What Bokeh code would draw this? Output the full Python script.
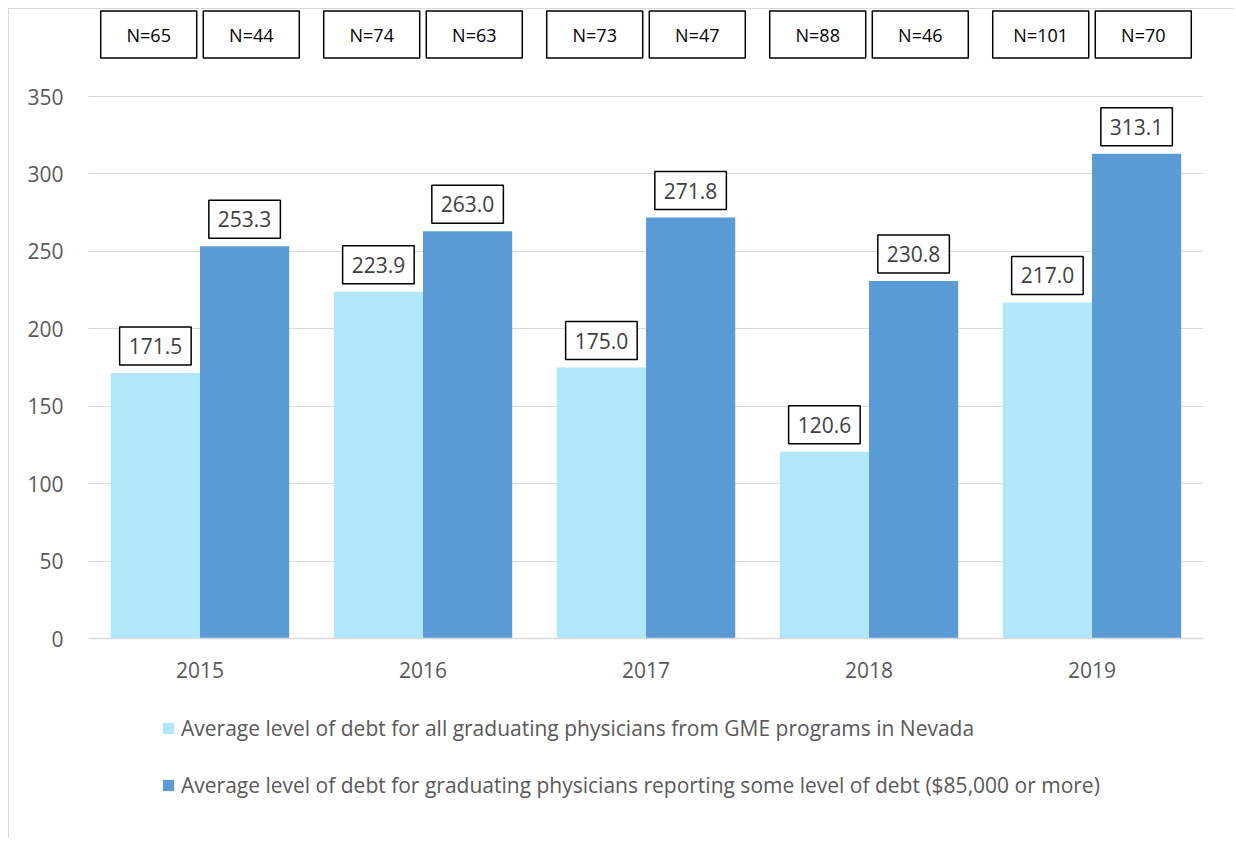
from bokeh.plotting import figure
from bokeh.layouts import column
from bokeh.models import (ColumnDataSource, FactorRange, Range1d, FixedTicker,
                          Legend, LegendItem)
from bokeh.transform import dodge
from bokeh.core.properties import value
from bokeh.embed import file_html
from bokeh.resources import INLINE

# ---- data ----
years = ["2015", "2016", "2017", "2018", "2019"]
avg_all = [171.5, 223.9, 175.0, 120.6, 217.0]
avg_some = [253.3, 263.0, 271.8, 230.8, 313.1]
n_all = [65, 74, 73, 88, 101]
n_some = [44, 63, 47, 46, 70]
y_ticks = [0, 50, 100, 150, 200, 250, 300, 350]
label_all = "Average level of debt for all graduating physicians from GME programs in Nevada"
label_some = "Average level of debt for graduating physicians reporting some level of debt ($85,000 or more)"

# ---- styles ----
FONT = "Open Sans"
C_LIGHT = "#B1E8F9"
C_DARK = "#5B9BD5"
GRID = "#D9D9D9"
TXT = "#595959"
N_BOX_Y = 390

src = ColumnDataSource(dict(
    year=years, all=avg_all, some=avg_some,
    all_txt=[f"{v:.1f}" for v in avg_all],
    some_txt=[f"{v:.1f}" for v in avg_some],
    n_all_txt=[f"N={v}" for v in n_all],
    n_some_txt=[f"N={v}" for v in n_some],
    nbox=[N_BOX_Y] * len(years),
))

p = figure(x_range=FactorRange(*years, range_padding=0), y_range=Range1d(0, 406.2),
           width=1225, height=689, output_backend="svg", toolbar_location=None,
           min_border_left=79, min_border_right=31, min_border_top=0,
           min_border_bottom=60)
p.outline_line_color = None
p.background_fill_color = "white"

r1 = p.vbar(x=dodge("year", -0.2, range=p.x_range), top="all", width=0.4,
            bottom=0, source=src, fill_color=C_LIGHT, line_color=None)
r2 = p.vbar(x=dodge("year", 0.2, range=p.x_range), top="some", width=0.4,
            bottom=0, source=src, fill_color=C_DARK, line_color=None)

# value labels with boxes
for col, off in (("all", -0.2), ("some", 0.2)):
    p.text(x=dodge("year", off, range=p.x_range), y=col, text=col + "_txt",
           source=src, text_align="center", text_baseline="bottom",
           y_offset=-8, text_font=value(FONT), text_font_size="21px",
           text_color="#404040", background_fill_color="white",
           border_line_color="black", border_line_width=1.5,
           padding=(9, 11))

# N boxes on top
for col, off in (("n_all_txt", -0.23), ("n_some_txt", 0.23)):
    p.rect(x=dodge("year", off, range=p.x_range), y="nbox", width=96, height=47,
           width_units="screen", height_units="screen", source=src,
           fill_color="white", line_color="black", line_width=1.5)
    p.text(x=dodge("year", off, range=p.x_range), y="nbox", text=col, source=src,
           text_align="center", text_baseline="middle",
           text_font=value(FONT), text_font_size="18px", text_color="black")

p.yaxis.ticker = FixedTicker(ticks=y_ticks)
p.ygrid.ticker = FixedTicker(ticks=y_ticks)
p.ygrid.grid_line_color = GRID
p.ygrid.grid_line_width = 1
p.xgrid.grid_line_color = None
p.yaxis.axis_line_color = None
p.yaxis.major_tick_line_color = None
p.yaxis.minor_tick_line_color = None
p.yaxis.major_label_text_font = FONT
p.yaxis.major_label_text_font_size = "21px"
p.yaxis.major_label_text_color = TXT
p.yaxis.major_label_standoff = 19

p.xaxis.axis_line_color = GRID
p.xaxis.axis_line_width = 1.5
p.xaxis.major_tick_line_color = None
p.xaxis.minor_tick_line_color = None
p.xaxis.major_label_text_font = FONT
p.xaxis.major_label_text_font_size = "21px"
p.xaxis.major_label_text_color = TXT
p.xaxis.major_label_standoff = 17

# legend in its own strip below the chart (proxy glyphs of zero size)
lf = figure(width=1225, height=140, output_backend="svg", toolbar_location=None,
            x_range=Range1d(0, 1), y_range=Range1d(0, 1),
            min_border=0, min_border_left=0, min_border_right=0,
            min_border_top=0, min_border_bottom=0)
lf.axis.visible = False
lf.grid.visible = False
lf.outline_line_color = None
l1 = lf.vbar(x=[0], top=[0], bottom=[0], width=0, fill_color=C_LIGHT, line_color=None)
l2 = lf.vbar(x=[0], top=[0], bottom=[0], width=0, fill_color=C_DARK, line_color=None)
legend = Legend(items=[LegendItem(label=label_all, renderers=[l1]),
                       LegendItem(label=label_some, renderers=[l2])],
                location=(73, 39), orientation="vertical",
                glyph_width=14, glyph_height=14, label_standoff=6,
                label_text_font=FONT, label_text_font_size="21px",
                label_text_color=TXT, border_line_color=None,
                background_fill_alpha=0, spacing=29, padding=0, margin=0)
lf.add_layout(legend)

layout = column(p, lf, spacing=0,
                styles={"margin-left": "8px", "margin-top": "8px",
                        "border-left": "1px solid #D9D9D9",
                        "border-top": "1px solid #D9D9D9"})

open("out.html", "w").write(file_html(layout, INLINE))
